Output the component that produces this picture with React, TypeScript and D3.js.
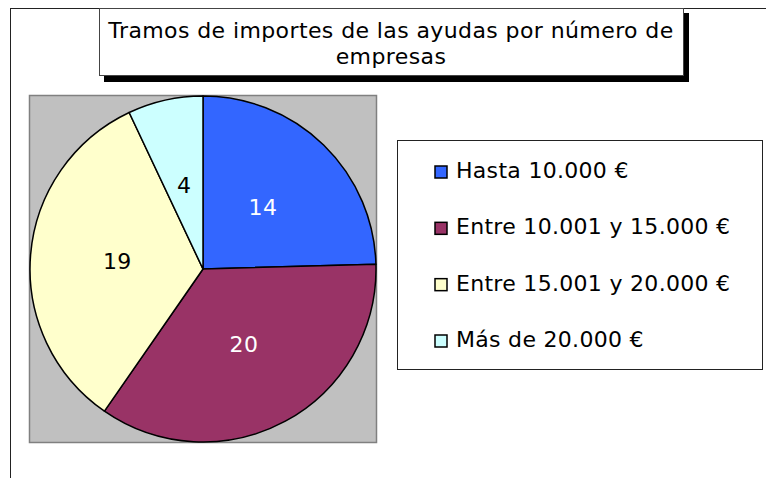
import React from "react";
import * as d3 from "d3";

const categories = [
  "Hasta 10.000 €",
  "Entre 10.001 y 15.000 €",
  "Entre 15.001 y 20.000 €",
  "Más de 20.000 €",
];
const values = [14, 20, 19, 4];
const colors = ["#3366FF", "#993366", "#FFFFCC", "#CCFFFF"];
const labelColors = ["#FFFFFF", "#FFFFFF", "#000000", "#000000"];
const titleLines = ["Tramos de importes de las ayudas por número de", "empresas"];

const W = 766;
const H = 478;
const FONT = "'DejaVu Sans', Verdana, sans-serif";

export default function App() {
  const cx = 203;
  const cy = 269;
  const r = 173;
  const pie = d3.pie<number>().sort(null).value((d) => d)(values);
  const arc = d3.arc<d3.PieArcDatum<number>>().innerRadius(0).outerRadius(r);
  const labelArc = d3.arc<d3.PieArcDatum<number>>().innerRadius(86).outerRadius(86);

  const legendX = 397;
  const legendY = 140;
  const legendW = 365;
  const legendH = 229;
  const rowBase = d3.scalePoint<number>().domain(d3.range(categories.length)).range([178, 347]);

  return (
    <div style={{ position: "fixed", left: 0, top: 0 }}>
      <svg width={W} height={H} style={{ display: "block", fontFamily: FONT }}>
        <rect x={0} y={0} width={W} height={H} fill="#FFFFFF" />
        {/* outer chart border (clipped at right/bottom) */}
        <rect x={10.5} y={8.5} width={W + 20} height={H + 20} fill="#FFFFFF" stroke="#222" strokeWidth={1} />

        {/* plot area */}
        <rect x={29.5} y={95.5} width={347} height={347} fill="#C0C0C0" stroke="#808080" strokeWidth={1.5} />

        {/* pie */}
        <g transform={`translate(${cx},${cy})`}>
          {pie.map((p, i) => (
            <path key={i} d={arc(p) || ""} fill={colors[i]} stroke="#000" strokeWidth={1.5} strokeLinejoin="round" />
          ))}
          {pie.map((p, i) => {
            const [lx, ly] = labelArc.centroid(p);
            return (
              <text
                key={"l" + i}
                x={lx}
                y={ly}
                textAnchor="middle"
                dominantBaseline="central"
                fontSize={22}
                letterSpacing={0.4}
                fill={labelColors[i]}
              >
                {values[i]}
              </text>
            );
          })}
        </g>

        {/* title */}
        <rect x={104} y={13} width={585} height={69} fill="#000" />
        <rect x={99.5} y={8.5} width={584} height={67} fill="#FFFFFF" stroke="#444" strokeWidth={1} />
        {titleLines.map((t, i) => (
          <text key={i} x={391} y={38 + i * 25.5} textAnchor="middle" fontSize={22} letterSpacing={0.4} fill="#000">
            {t}
          </text>
        ))}

        {/* legend */}
        <rect x={legendX + 0.5} y={legendY + 0.5} width={legendW} height={legendH} fill="#FFFFFF" stroke="#222" strokeWidth={1} />
        {categories.map((c, i) => {
          const by = rowBase(i) as number;
          return (
            <g key={i}>
              <rect x={435} y={by - 12} width={12} height={12} fill={colors[i]} stroke="#000" strokeWidth={1.5} />
              <text x={456} y={by} fontSize={22} letterSpacing={0.3} fill="#000">
                {c}
              </text>
            </g>
          );
        })}
      </svg>
    </div>
  );
}
